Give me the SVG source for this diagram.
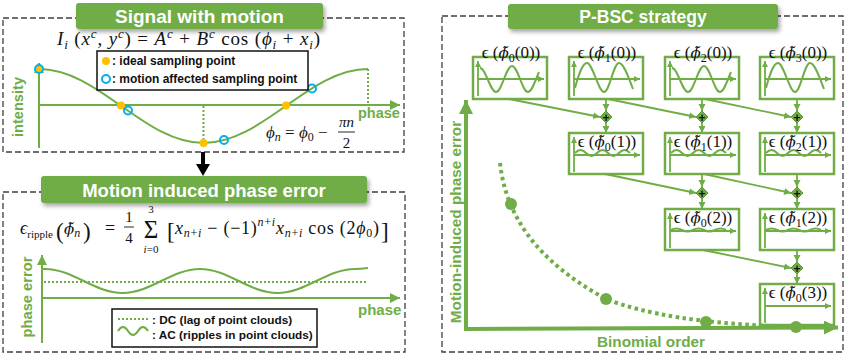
<svg xmlns="http://www.w3.org/2000/svg" width="847" height="356" viewBox="0 0 847 356">
<defs>
<style>
.dash{fill:none;stroke:#3f3f3f;stroke-width:1.3;stroke-dasharray:6 3}
.banner{fill:#70AD47}
.bt{font-family:"Liberation Sans",Arial,sans-serif;font-weight:bold;fill:#fff;text-anchor:middle}
.gl{font-family:"Liberation Sans",Arial,sans-serif;font-weight:bold;fill:#70AD47}
.bl{font-family:"Liberation Sans",Arial,sans-serif;font-weight:bold;fill:#111}
.m{font-family:"Liberation Serif","DejaVu Serif",serif;fill:#111}
.it{font-style:italic}
.tp{font-family:"DejaVu Serif",serif;font-style:italic;font-size:15px}
.ax{fill:none;stroke:#70AD47;stroke-width:2}
.curve{fill:none;stroke:#70AD47;stroke-width:2}
.dot{fill:none;stroke:#70AD47;stroke-width:2;stroke-dasharray:2 2}
.ideal{fill:#FFC000}
.motion{fill:none;stroke:#00B0F0;stroke-width:2}
.box{fill:#fff;stroke:#70AD47;stroke-width:2.5}
.in{fill:none;stroke:#70AD47;stroke-width:1.8}
.wv{fill:none;stroke:#70AD47;stroke-width:2}
.con{fill:none;stroke:#70AD47;stroke-width:1.8}
.plus{fill:#70AD47;stroke:#5b9a36;stroke-width:1}
.pt{font-family:"Liberation Sans",Arial,sans-serif;font-weight:bold;font-size:12px;fill:#111;text-anchor:middle}
.lbl{font-family:"Liberation Serif","DejaVu Serif",serif;font-size:17px;fill:#111;text-anchor:middle}
.big{fill:none;stroke:#70AD47;stroke-width:4}
.gdot{fill:#70AD47}
</style>
<filter id="sh" x="-10%" y="-30%" width="120%" height="180%">
<feDropShadow dx="2" dy="3" stdDeviation="2" flood-color="#000" flood-opacity="0.35"/>
</filter>
<marker id="ahm" markerUnits="userSpaceOnUse" markerWidth="12" markerHeight="10" refX="10" refY="5" orient="auto">
<path d="M0,0 L10,5 L0,10 z" fill="#70AD47"/>
</marker>
<marker id="ahs" markerUnits="userSpaceOnUse" markerWidth="8" markerHeight="8" refX="7" refY="3.5" orient="auto">
<path d="M0,0 L7,3.5 L0,7 z" fill="#70AD47"/>
</marker>
<marker id="aht" markerUnits="userSpaceOnUse" markerWidth="7" markerHeight="7" refX="6" refY="3" orient="auto">
<path d="M0,0 L6,3 L0,6 z" fill="#70AD47"/>
</marker>
<marker id="ahb" markerUnits="userSpaceOnUse" markerWidth="16" markerHeight="14" refX="14" refY="7" orient="auto">
<path d="M0,0 L14,7 L0,14 z" fill="#70AD47"/>
</marker>
<path id="wa" d="M7,11 C12.8,11 17.2,35 23,35 C28.8,35 33.2,9 39,9 C44.8,9 49.2,35 55,35 C59,35 62,24 66,15"/>
<path id="wb" d="M6,31 C9,20 13,6 18,6 C23.5,6 29.5,35 35,35 C40.5,35 44.5,6 50,6 C55,6 60,22 64,32"/>
<path id="r1" d="M6,20 q5.5,-6 11,0 t11,0 t11,0 t11,0 t11,0"/>
<path id="r2" d="M6,21 q5.5,-3 11,0 t11,0 t11,0 t11,0 t11,0"/>
<g id="axn"><path class="in" d="M5,39 L5,4" marker-end="url(#aht)"/><path class="in" d="M5,22 L71,22" marker-end="url(#aht)"/></g>
</defs>

<rect width="847" height="356" fill="#fff"/>

<!-- Panel 1: Signal with motion -->
<g id="panel-signal">
<rect class="dash" x="3" y="18" width="401" height="134"/>
<rect class="banner" x="76" y="3" width="247" height="26" rx="3" filter="url(#sh)"/>
<text class="bt" x="199.5" y="23" font-size="19">Signal with motion</text>
<text class="m" x="57" y="45" font-size="19" textLength="263" lengthAdjust="spacing"><tspan class="it">I</tspan><tspan font-size="13" class="it" dy="4">i</tspan><tspan dy="-4"> (</tspan><tspan class="it">x</tspan><tspan font-size="13" class="it" dy="-7">c</tspan><tspan dy="7">, </tspan><tspan class="it">y</tspan><tspan font-size="13" class="it" dy="-7">c</tspan><tspan dy="7">) = </tspan><tspan class="it">A</tspan><tspan font-size="13" class="it" dy="-7">c</tspan><tspan dy="7"> + </tspan><tspan class="it">B</tspan><tspan font-size="13" class="it" dy="-7">c</tspan><tspan dy="7"> cos (</tspan><tspan class="it">ϕ</tspan><tspan font-size="13" class="it" dy="4">i</tspan><tspan dy="-4"> + </tspan><tspan class="it">x</tspan><tspan font-size="13" class="it" dy="4">i</tspan><tspan dy="-4">)</tspan></text>
<path class="ax" d="M39,148 L39,63" marker-end="url(#ahm)"/>
<path class="ax" d="M39,105 L400,105" marker-end="url(#ahm)"/>
<path class="curve" d="M39,69 C98.9,69 143.6,143 203.5,143 C263.4,143 308.1,69 368,69"/>
<path class="dot" d="M203.5,106 L203.5,143"/>
<path class="dot" d="M368,69 L368,106"/>
<circle class="ideal" cx="39" cy="69" r="4"/>
<circle class="motion" cx="39" cy="69" r="4"/>
<circle class="ideal" cx="121" cy="105.5" r="4"/>
<circle class="ideal" cx="203.5" cy="143" r="4"/>
<circle class="ideal" cx="286" cy="105.5" r="4"/>
<circle class="motion" cx="128" cy="110.5" r="4"/>
<circle class="motion" cx="224" cy="140" r="4"/>
<circle class="motion" cx="312" cy="88.5" r="4"/>
<rect x="97" y="51" width="211" height="39" fill="#fff" stroke="#111" stroke-width="1.5"/>
<circle class="ideal" cx="106" cy="61" r="4"/>
<text class="bl" x="112" y="65" font-size="12">: ideal sampling point</text>
<circle class="motion" cx="106" cy="79" r="4"/>
<text class="bl" x="112" y="83" font-size="12">: motion affected sampling point</text>
<text class="gl" x="358" y="118" font-size="14.5">phase</text>
<text class="gl" font-size="14.6" text-anchor="middle" transform="translate(23,107) rotate(-90)">intensity</text>
<text class="m" x="266" y="138" font-size="17"><tspan class="it">ϕ</tspan><tspan font-size="12" class="it" dy="3">n</tspan><tspan dy="-3"> = </tspan><tspan class="it">ϕ</tspan><tspan font-size="12" dy="3">0</tspan><tspan dy="-3"> − </tspan></text>
<text class="m it" x="346.5" y="127" font-size="15" text-anchor="middle">πn</text>
<line x1="338" y1="132" x2="355" y2="132" stroke="#111" stroke-width="0.9"/>
<text class="m" x="346.5" y="148" font-size="15" text-anchor="middle">2</text>
</g>

<!-- arrow between panels -->
<g id="arrow-down">
<rect x="201" y="152" width="4" height="13" fill="#000"/>
<path d="M196,164 L210,164 L203,176 z" fill="#000"/>
</g>

<!-- Panel 2: Motion induced phase error -->
<g id="panel-error">
<rect class="dash" x="3" y="192" width="402" height="160"/>
<rect class="banner" x="41" y="176" width="326" height="27" rx="3" filter="url(#sh)"/>
<text class="bt" x="204" y="196.5" font-size="18.5">Motion induced phase error</text>
<text class="m" x="20" y="234" font-size="18"><tspan class="it">ϵ</tspan><tspan font-size="11" dy="4">ripple</tspan></text>
<text class="m" x="56" y="239" font-size="23">(</text>
<text class="m" x="64" y="234" font-size="18"><tspan class="tp" font-size="16">ϕ̃</tspan><tspan font-size="12" class="it" dy="3">n</tspan></text>
<text class="m" x="83" y="239" font-size="23">)</text>
<text class="m" x="105" y="234" font-size="18">=</text>
<text class="m" x="129" y="222" font-size="15" text-anchor="middle">1</text>
<line x1="124" y1="227" x2="134" y2="227" stroke="#111" stroke-width="0.9"/>
<text class="m" x="129" y="243" font-size="15" text-anchor="middle">4</text>
<text class="m" x="151" y="238" font-size="25" text-anchor="middle">Σ</text>
<text class="m" x="151" y="213" font-size="11" text-anchor="middle">3</text>
<text class="m it" x="151" y="253" font-size="11" text-anchor="middle">i<tspan font-style="normal">=0</tspan></text>
<text class="m" x="167" y="239" font-size="23">[</text>
<text class="m" x="175" y="234" font-size="18" textLength="204" lengthAdjust="spacing"><tspan class="it">x</tspan><tspan font-size="12" class="it" dy="3">n</tspan><tspan font-size="12" dy="0">+</tspan><tspan font-size="12" class="it">i</tspan><tspan dy="-3"> − (−1)</tspan><tspan font-size="12" class="it" dy="-8">n</tspan><tspan font-size="12">+</tspan><tspan font-size="12" class="it">i</tspan><tspan class="it" dy="8">x</tspan><tspan font-size="12" class="it" dy="3">n</tspan><tspan font-size="12">+</tspan><tspan font-size="12" class="it">i</tspan><tspan dy="-3"> cos (2</tspan><tspan class="it">ϕ</tspan><tspan font-size="12" dy="3">0</tspan><tspan dy="-3">)</tspan></text>
<text class="m" x="381" y="239" font-size="23">]</text>
<path class="ax" d="M42,343 L42,255" marker-end="url(#ahm)"/>
<path class="ax" d="M42,298 L400,298" marker-end="url(#ahm)"/>
<path class="curve" d="M43,269 L45,269 C73.2,269 94.3,293 122.5,293 C150.7,293 171.8,269 200,269 C228.2,269 249.3,293 277.5,293 C305.7,293 326.8,269 355,269 C360,269 364,268.5 368,268"/>
<path class="dot" d="M44,282 L367,282"/>
<text class="gl" x="358" y="315" font-size="15">phase</text>
<text class="gl" font-size="14.7" text-anchor="middle" transform="translate(32,297) rotate(-90)">phase error</text>
<rect x="112" y="309" width="205" height="38" fill="#fff" stroke="#111" stroke-width="1.5"/>
<path class="dot" d="M118,319 L148,319"/>
<text class="bl" x="152" y="323.5" font-size="11.8">: DC (lag of point clouds)</text>
<path class="curve" d="M118,331 q5,-8 10,0 t10,0 t10,0"/>
<text class="bl" x="152" y="339" font-size="11.8">: AC (ripples in point clouds)</text>
</g>

<!-- Panel 3: P-BSC strategy -->
<g id="panel-pbsc">
<rect class="dash" x="442" y="16" width="401" height="336"/>
<rect class="banner" x="508" y="4" width="270" height="25" rx="3" filter="url(#sh)"/>
<text class="bt" x="643" y="23" font-size="17.5">P-BSC strategy</text>
</g>

<g id="n00" transform="translate(473,57)">
<rect class="box" width="74" height="42"/><use href="#axn"/><use href="#wa" class="wv"/>
<text class="lbl" x="38" y="1">ϵ (<tspan class="tp">ϕ̃</tspan><tspan font-size="12" dy="4">0</tspan><tspan dy="-4">(0))</tspan></text>
</g>
<g id="n10" transform="translate(569,57)">
<rect class="box" width="74" height="42"/><use href="#axn"/><use href="#wb" class="wv"/>
<text class="lbl" x="38" y="1">ϵ (<tspan class="tp">ϕ̃</tspan><tspan font-size="12" dy="4">1</tspan><tspan dy="-4">(0))</tspan></text>
</g>
<g id="n20" transform="translate(665,57)">
<rect class="box" width="74" height="42"/><use href="#axn"/><use href="#wa" class="wv"/>
<text class="lbl" x="38" y="1">ϵ (<tspan class="tp">ϕ̃</tspan><tspan font-size="12" dy="4">2</tspan><tspan dy="-4">(0))</tspan></text>
</g>
<g id="n30" transform="translate(760,57)">
<rect class="box" width="74" height="42"/><use href="#axn"/><use href="#wb" class="wv"/>
<text class="lbl" x="38" y="1">ϵ (<tspan class="tp">ϕ̃</tspan><tspan font-size="12" dy="4">3</tspan><tspan dy="-4">(0))</tspan></text>
</g>
<g id="n01" transform="translate(569,133)">
<rect class="box" width="74" height="41"/><use href="#axn"/><use href="#r1" class="wv"/>
<text class="lbl" x="38" y="14">ϵ (<tspan class="tp">ϕ̃</tspan><tspan font-size="12" dy="4">0</tspan><tspan dy="-4">(1))</tspan></text>
</g>
<g id="n11" transform="translate(665,133)">
<rect class="box" width="74" height="41"/><use href="#axn"/><use href="#r1" class="wv"/>
<text class="lbl" x="38" y="14">ϵ (<tspan class="tp">ϕ̃</tspan><tspan font-size="12" dy="4">1</tspan><tspan dy="-4">(1))</tspan></text>
</g>
<g id="n21" transform="translate(760,133)">
<rect class="box" width="74" height="41"/><use href="#axn"/><use href="#r1" class="wv"/>
<text class="lbl" x="38" y="14">ϵ (<tspan class="tp">ϕ̃</tspan><tspan font-size="12" dy="4">2</tspan><tspan dy="-4">(1))</tspan></text>
</g>
<g id="n02" transform="translate(665,209)">
<rect class="box" width="74" height="41"/><use href="#axn"/><use href="#r2" class="wv"/>
<text class="lbl" x="38" y="14">ϵ (<tspan class="tp">ϕ̃</tspan><tspan font-size="12" dy="4">0</tspan><tspan dy="-4">(2))</tspan></text>
</g>
<g id="n12" transform="translate(760,209)">
<rect class="box" width="74" height="41"/><use href="#axn"/><use href="#r2" class="wv"/>
<text class="lbl" x="38" y="14">ϵ (<tspan class="tp">ϕ̃</tspan><tspan font-size="12" dy="4">1</tspan><tspan dy="-4">(2))</tspan></text>
</g>
<g id="n03" transform="translate(760,284)">
<rect class="box" width="74" height="41"/><use href="#axn"/>
<text class="lbl" x="38" y="14">ϵ (<tspan class="tp">ϕ̃</tspan><tspan font-size="12" dy="4">0</tspan><tspan dy="-4">(3))</tspan></text>
</g>

<g id="sum-a"><path class="plus" d="M606,111 L612,117 L606,123 L600,117 z"/><text class="pt" x="606" y="121.5">+</text></g>
<g id="sum-b"><path class="plus" d="M702,111 L708,117 L702,123 L696,117 z"/><text class="pt" x="702" y="121.5">+</text></g>
<g id="sum-c"><path class="plus" d="M797,111 L803,117 L797,123 L791,117 z"/><text class="pt" x="797" y="121.5">+</text></g>
<g id="sum-d"><path class="plus" d="M702,187 L708,193 L702,199 L696,193 z"/><text class="pt" x="702" y="197.5">+</text></g>
<g id="sum-e"><path class="plus" d="M797,187 L803,193 L797,199 L791,193 z"/><text class="pt" x="797" y="197.5">+</text></g>
<g id="sum-f"><path class="plus" d="M797,262 L803,268 L797,274 L791,268 z"/><text class="pt" x="797" y="272.5">+</text></g>

<g id="connectors">
<path class="con" d="M606,99 L606,111" marker-end="url(#ahs)"/>
<path class="con" d="M606,123 L606,133" marker-end="url(#ahs)"/>
<path class="con" d="M702,99 L702,111" marker-end="url(#ahs)"/>
<path class="con" d="M702,123 L702,133" marker-end="url(#ahs)"/>
<path class="con" d="M797,99 L797,111" marker-end="url(#ahs)"/>
<path class="con" d="M797,123 L797,133" marker-end="url(#ahs)"/>
<path class="con" d="M702,174 L702,187" marker-end="url(#ahs)"/>
<path class="con" d="M702,199 L702,209" marker-end="url(#ahs)"/>
<path class="con" d="M797,174 L797,187" marker-end="url(#ahs)"/>
<path class="con" d="M797,199 L797,209" marker-end="url(#ahs)"/>
<path class="con" d="M797,250 L797,262" marker-end="url(#ahs)"/>
<path class="con" d="M797,274 L797,284" marker-end="url(#ahs)"/>
<path class="con" d="M509,99 L600,117" marker-end="url(#ahs)"/>
<path class="con" d="M608,99 L696,117" marker-end="url(#ahs)"/>
<path class="con" d="M705,99 L791,117" marker-end="url(#ahs)"/>
<path class="con" d="M605,174 L696,193" marker-end="url(#ahs)"/>
<path class="con" d="M704,174 L791,193" marker-end="url(#ahs)"/>
<path class="con" d="M703,250 L791,268" marker-end="url(#ahs)"/>
</g>

<g id="plot-axes">
<path class="big" d="M466,329 L466,100" marker-end="url(#ahb)"/>
<path class="big" d="M464,329 L838,327.5" marker-end="url(#ahb)"/>
<path fill="none" stroke="#70AD47" stroke-width="4" stroke-dasharray="3.5 3.5" d="M500,163 C506,215 535,260 606,299 C645,314 700,324 796,327"/>
<circle class="gdot" cx="511" cy="204" r="6"/>
<circle class="gdot" cx="606" cy="299" r="6"/>
<circle class="gdot" cx="706" cy="322" r="6"/>
<circle class="gdot" cx="796" cy="327" r="6"/>
<text class="gl" font-size="15.3" text-anchor="middle" transform="translate(461,222) rotate(-90)">Motion-induced phase error</text>
<text class="gl" x="651" y="347" font-size="15.3" text-anchor="middle">Binomial order</text>
</g>
</svg>
